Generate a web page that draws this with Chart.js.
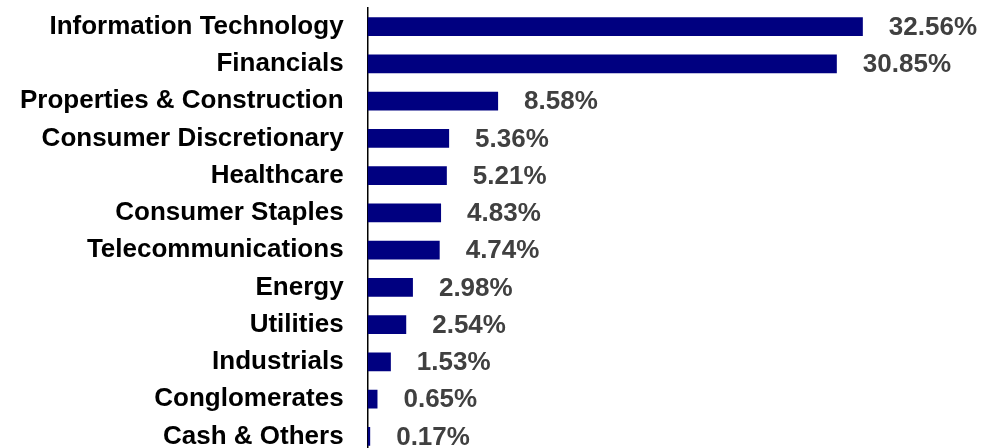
<!DOCTYPE html>
<html><head><meta charset="utf-8">
<script src="https://cdn.jsdelivr.net/npm/chart.js@4/dist/chart.umd.min.js"></script>
<style>html,body{margin:0;padding:0;overflow:hidden;background:#fff;width:981px;height:448px}canvas{display:block}</style>
</head><body><canvas id="c" width="981" height="456" style="width:981px;height:456px"></canvas>
<script>
const categories = ["Information Technology","Financials","Properties & Construction","Consumer Discretionary","Healthcare","Consumer Staples","Telecommunications","Energy","Utilities","Industrials","Conglomerates","Cash & Others"];
const weights = [32.56,30.85,8.58,5.36,5.21,4.83,4.74,2.98,2.54,1.53,0.65,0.17];
const valueLabels = ["32.56%","30.85%","8.58%","5.36%","5.21%","4.83%","4.74%","2.98%","2.54%","1.53%","0.65%","0.17%"];

const FONT = "'Liberation Sans', Arial, sans-serif";
const labelPlugin = {
  id: 'vals',
  afterDatasetsDraw(chart){
    const ctx = chart.ctx;
    const meta = chart.getDatasetMeta(0);
    ctx.save();
    ctx.font = "bold 26px " + FONT;
    ctx.fillStyle = "#404040";
    ctx.textBaseline = "middle";
    ctx.textAlign = "left";
    meta.data.forEach((el,i)=>{
      ctx.fillText(valueLabels[i], el.x + 26, el.y + 1);
    });
    ctx.restore();
  }
};
new Chart(document.getElementById('c'), {
  type: 'bar',
  data: { labels: categories, datasets: [{ data: weights, backgroundColor: '#000080', borderWidth: 0, categoryPercentage: 1, barPercentage: 0.51 }] },
  options: {
    indexAxis: 'y', responsive: false, maintainAspectRatio: false, animation: false,
    layout: { padding: { top: 8, right: 5, bottom: 1, left: 0 } },
    plugins: { legend: { display: false }, tooltip: { enabled: false } },
    scales: {
      x: { min: 0, max: 40, display: false, grid: { display: false } },
      y: {
        afterFit(s){ s.width -= 4; s.paddingTop = 0; s.paddingBottom = 0; },
        grid: { display: false, drawTicks: false },
        border: { display: true, color: '#000', width: 1.5 },
        ticks: { color: '#000', font: { family: FONT, size: 26, weight: 'bold' }, padding: 24, autoSkip: false }
      }
    }
  },
  plugins: [labelPlugin]
});
</script></body></html>
